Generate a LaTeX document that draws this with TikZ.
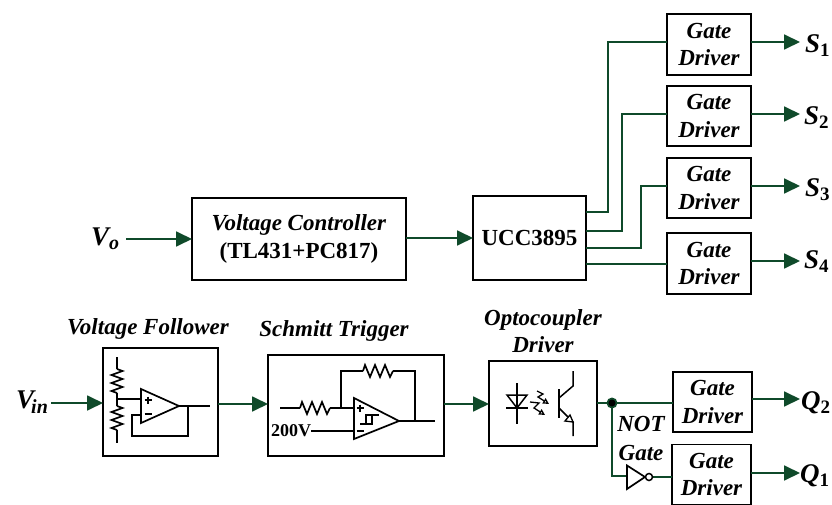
\documentclass[tikz,border=0pt]{standalone}
\usepackage{fontspec}
\setmainfont{Liberation Serif}
\usetikzlibrary{arrows.meta,calc}
\definecolor{wire}{HTML}{0F4A2A}
\tikzset{
  x=1pt,y=-1pt,
  box/.style={draw=black,line width=1.8pt,fill=white,inner sep=0pt,outer sep=0pt,align=center},
  gatebox/.style={box,minimum width=84pt,minimum height=60pt,font=\fontsize{23}{27.5}\selectfont\bfseries\itshape},
  conn/.style={draw=wire,line width=1.8pt},
  arr/.style={conn,-{Triangle[length=16pt,width=15pt]}},
  blk/.style={draw=black,line width=1.5pt,line join=miter},
  lab/.style={inner sep=0pt,font=\fontsize{23}{27}\selectfont\bfseries\itshape,align=center},
  sig/.style={inner sep=0pt,font=\fontsize{27}{30}\selectfont\bfseries\itshape,anchor=west},
  upr/.style={inner sep=0pt,font=\fontsize{23}{27}\selectfont\bfseries},
  vzig/.pic={\draw[blk,line width=1.7pt] (0,0) -- (5.5,2) -- (-5.5,6) -- (5.5,10) -- (-5.5,14) -- (5.5,18) -- (-5.5,22) -- (0,24);},
  hzig/.pic={\draw[blk,line width=1.7pt] (0,0) -- (2,-6) -- (7,6) -- (12,-6) -- (17,6) -- (22,-6) -- (27,6) -- (30,0);}
}
\newcommand{\subsc}[1]{\textsubscript{\fontsize{20}{20}\selectfont #1}}
\begin{document}
\begin{tikzpicture}
\useasboundingbox (0,0) rectangle (832,505);
% top row boxes
\node[box,minimum width=214pt,minimum height=82pt,font=\fontsize{23}{28}\selectfont\bfseries] (vc) at (299,239) {\textit{Voltage Controller}\\(TL431+PC817)};
\node[box,minimum width=113pt,minimum height=84pt,font=\fontsize{23}{24}\selectfont\bfseries] (ucc) at (529.5,238) {UCC3895};
\node[gatebox,minimum height=61pt] (g1) at (709,44.5) {Gate\\Driver};
\node[gatebox] (g2) at (709,116) {Gate\\Driver};
\node[gatebox] (g3) at (709,188) {Gate\\Driver};
\node[gatebox,minimum height=61pt] (g4) at (709,263.5) {Gate\\Driver};
% signal labels
\node[sig] (vo) at (91,239) {V\subsc{o}};
\node[sig] (s1) at (805,46) {S\textsubscript{\fontsize{19}{19}\selectfont\upshape 1}};
\node[sig] (s2) at (804,118) {S\textsubscript{\fontsize{19}{19}\selectfont\upshape 2}};
\node[sig] (s3) at (805,190) {S\textsubscript{\fontsize{19}{19}\selectfont\upshape 3}};
\node[sig] (s4) at (804,262) {S\textsubscript{\fontsize{19}{19}\selectfont\upshape 4}};
% top connectors
\coordinate (vot) at (126,239);
\draw[arr] (vot) -- (vc.west);
\draw[arr] (vc.east |- ucc.west) -- (ucc.west);
\coordinate (u1) at (586,212);
\coordinate (u2) at (586,231);
\coordinate (u3) at (586,248);
\coordinate (u4) at (586,264);
\draw[conn] (u1) -- (608,212) -- (608,42) -- (g1.west |- 0,42);
\draw[conn] (u2) -- (622,231) -- (622,114) -- (g2.west |- 0,114);
\draw[conn] (u3) -- (641,248) -- (641,186) -- (g3.west |- 0,186);
\draw[conn] (u4) -- (g4.west |- u4);
\coordinate (e1) at (800,42);
\coordinate (e2) at (800,114);
\coordinate (e3) at (800,186);
\coordinate (e4) at (800,261);
\draw[arr] (g1.east |- e1) -- (e1);
\draw[arr] (g2.east |- e2) -- (e2);
\draw[arr] (g3.east |- e3) -- (e3);
\draw[arr] (g4.east |- e4) -- (e4);
% bottom row boxes
\node[box,minimum width=115pt,minimum height=108pt] (vf) at (160.5,402) {};
\node[box,minimum width=176pt,minimum height=101pt] (st) at (356,405.5) {};
\node[box,minimum width=108pt,minimum height=85pt] (oc) at (543,403.5) {};
\node[gatebox,minimum width=79pt] (q2g) at (712.5,402) {Gate\\Driver};
\node[gatebox,minimum width=79pt] (q1g) at (711.5,474.5) {Gate\\Driver};
% heading labels
\node[lab] (lvf) at (148,329) {Voltage Follower};
\node[lab] (lst) at (334,331) {Schmitt Trigger};
\node[lab] (loc) at (543,331) {Optocoupler\\Driver};
\node[lab] (lnot) at (641,424) {NOT};
\node[lab] (lgate) at (641,453) {Gate};
\node[sig] (vin) at (16,402) {V\kern-3pt\subsc{in}};
\node[sig] (q2) at (801,403) {Q\textsubscript{\fontsize{19}{19}\selectfont\upshape 2}};
\node[sig] (q1) at (800,476) {Q\textsubscript{\fontsize{19}{19}\selectfont\upshape 1}};
% voltage follower internals
\draw[blk] (117,357) -- (117,369);
\pic at (117,369) {vzig};
\draw[blk] (117,393) -- (117,406);
\pic at (117,406) {vzig};
\draw[blk] (117,430) -- (117,443);
\draw[blk] (117,399) -- (141,399);
\draw[blk,line width=1.8pt] (144.5,400) -- (151.5,400) (148,396.5) -- (148,403.5);
\draw[blk,line width=1.8pt] (144.5,414) -- (151.5,414);
\draw[blk,line width=1.7pt] (141,389) -- (141,423) -- (179,406) -- cycle;
\draw[blk] (179,406) -- (210,406);
\draw[blk] (188,406) -- (188,436) -- (132,436) -- (132,415) -- (141,415);
% schmitt internals
\draw[blk] (280,408) -- (300,408);
\pic at (300,408) {hzig};
\draw[blk] (330,408) -- (354,408);
\draw[blk] (341,408) -- (341,371) -- (363,371);
\pic at (363,371) {hzig};
\draw[blk] (393,371) -- (415,371) -- (415,421);
\draw[blk,line width=1.7pt] (354,398) -- (354,439) -- (399,421) -- cycle;
\draw[blk] (399,421) -- (435,421);
\node[upr,font=\fontsize{18}{18}\selectfont\bfseries] (v200) at (291,431) {200V};
\draw[blk] (v200.east) -- (354,431);
\draw[blk,line width=1.8pt] (356.5,408) -- (363.5,408) (360,404.5) -- (360,411.5);
\draw[blk,line width=1.8pt] (356.5,431) -- (363.5,431);
\draw[blk,line width=1.4pt] (360,424) -- (372,424) -- (372,415) -- (366,415) -- (366,424);
\draw[blk,line width=1.4pt] (372,415) -- (379,415);
% optocoupler internals
\draw[blk] (517,383) -- (517,424);
\draw[blk] (507,395) -- (527,395) -- (517,408) -- cycle;
\draw[blk] (506,408) -- (528,408);
\draw[blk,line width=1.3pt,-{Triangle[open,length=6pt,width=6pt]}] (537,391) -- (543,394) -- (538,397) -- (549,404);
\draw[blk,line width=1.3pt,-{Triangle[open,length=6pt,width=6pt]}] (530,402) -- (539,403) -- (534,408) -- (545,415);
\draw[blk,line width=1.8pt] (559,389) -- (559,418);
\draw[blk] (559,398) -- (573,386) -- (573,371);
\draw[blk] (559,408) -- (573,422) -- (573,436);
\draw[black,fill=white,line width=1.3pt] (573,422) -- (565,421) -- (570,415) -- cycle;
% bottom connectors
\coordinate (vinend) at (51,403);
\draw[arr] (vinend) -- (vf.west |- vinend);
\draw[arr] (vf.east |- 0,404) -- (st.west |- 0,404);
\draw[arr] (st.east |- 0,404) -- (oc.west |- 0,404);
\coordinate (jn) at (612,403);
\draw[conn] (oc.east |- jn) -- (q2g.west |- jn);
\draw[conn] (jn) -- (612,476) -- (627,476);
\fill[wire] (jn) circle (5.5);
\fill[black] (jn) circle (3.5);
\draw[conn] (653,477) -- (q1g.west |- 0,477);
\draw[blk,line width=1.7pt,fill=white] (627,465.5) -- (627,489) -- (645,477) -- cycle;
\node[draw=black,line width=1.5pt,circle,minimum size=7pt,inner sep=0pt,fill=white] (bub) at (649,477) {};
\coordinate (e5) at (800,399);
\coordinate (e6) at (800,473);
\draw[arr] (q2g.east |- e5) -- (e5);
\draw[arr] (q1g.east |- e6) -- (e6);
\end{tikzpicture}
\end{document}
